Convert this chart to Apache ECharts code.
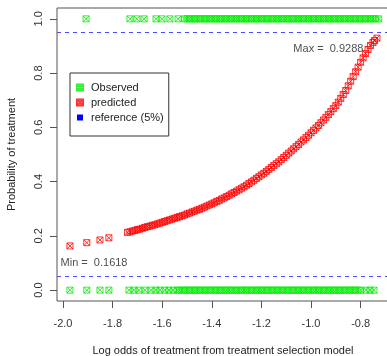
<!DOCTYPE html>
<html>
<head>
<meta charset="utf-8">
<script src="https://cdn.jsdelivr.net/npm/echarts@6/dist/echarts.min.js"></script>
<style>
html,body{margin:0;padding:0;background:#fff;}
#chart{width:387px;height:356px;}
</style>
</head>
<body>
<div id="chart"></div>
<script>
// Observed outcomes (x positions) at y = 0 and y = 1
const obs0X = [-1.972,-1.904,-1.851,-1.815,-1.734,-1.714,-1.694,-1.669,-1.645,-1.625,-1.609,-1.589,-1.573,-1.556,
  -1.54,-1.53,-1.52,-1.51,-1.50,-1.49,-1.48,-1.47,-1.46,-1.45,-1.44,-1.43,-1.42,-1.41,-1.40,-1.39,-1.38,-1.37,-1.36,-1.35,-1.34,-1.33,-1.32,-1.31,-1.30,
  -1.29,-1.28,-1.27,-1.26,-1.25,-1.24,-1.23,-1.22,-1.21,-1.20,-1.19,-1.18,-1.17,-1.16,-1.15,-1.14,-1.13,-1.12,-1.11,-1.10,
  -1.09,-1.08,-1.07,-1.06,-1.05,-1.04,-1.03,-1.02,-1.01,-1.00,-0.99,-0.98,-0.97,-0.96,-0.95,-0.94,-0.93,-0.92,-0.91,-0.90,
  -0.89,-0.88,-0.87,-0.86,-0.85,-0.84,-0.83,-0.82,-0.81,-0.80,-0.778,-0.762,-0.746];
const obs1X = [-1.907,-1.730,-1.702,-1.673,-1.625,-1.601,-1.569,-1.536,
  -1.51,-1.50,-1.49,-1.48,-1.47,-1.46,-1.45,-1.44,-1.43,-1.42,-1.41,-1.40,-1.39,-1.38,-1.37,-1.36,-1.35,-1.34,-1.33,-1.32,-1.31,-1.30,
  -1.29,-1.28,-1.27,-1.26,-1.25,-1.24,-1.23,-1.22,-1.21,-1.20,-1.19,-1.18,-1.17,-1.16,-1.15,-1.14,-1.13,-1.12,-1.11,-1.10,
  -1.09,-1.08,-1.07,-1.06,-1.05,-1.04,-1.03,-1.02,-1.01,-1.00,-0.99,-0.98,-0.97,-0.96,-0.95,-0.94,-0.93,-0.92,-0.91,-0.90,
  -0.89,-0.88,-0.87,-0.86,-0.85,-0.84,-0.83,-0.82,-0.81,-0.80,-0.79,-0.78,-0.77,-0.76,-0.75,-0.74,-0.727];

// Predicted probabilities
const predX = [-1.972,-1.904,-1.851,-1.815,
  -1.74,-1.73,-1.72,-1.71,-1.70,-1.69,-1.68,-1.67,-1.66,-1.65,-1.64,-1.63,-1.62,-1.61,-1.60,
  -1.59,-1.58,-1.57,-1.56,-1.55,-1.54,-1.53,-1.52,-1.51,-1.50,-1.49,-1.48,-1.47,-1.46,-1.45,-1.44,-1.43,-1.42,-1.41,-1.40,
  -1.39,-1.38,-1.37,-1.36,-1.35,-1.34,-1.33,-1.32,-1.31,-1.30,-1.29,-1.28,-1.27,-1.26,-1.25,-1.24,-1.23,-1.22,-1.21,-1.20,
  -1.19,-1.18,-1.17,-1.16,-1.15,-1.14,-1.13,-1.12,-1.11,-1.10,-1.09,-1.08,-1.07,-1.06,-1.05,-1.04,-1.03,-1.02,-1.01,-1.00,
  -0.99,-0.98,-0.97,-0.96,-0.95,-0.94,-0.93,-0.92,-0.91,-0.90,-0.89,-0.88,-0.87,-0.86,-0.85,-0.84,-0.83,-0.82,-0.81,-0.80,
  -0.79,-0.78,-0.77,-0.76,-0.75,-0.744,-0.734];
const predY = [0.163,0.175,0.185,0.193,
  0.213,0.215,0.218,0.220,0.223,0.225,0.228,0.231,0.234,0.236,0.239,0.241,0.244,0.247,0.250,
  0.253,0.256,0.259,0.262,0.265,0.268,0.271,0.274,0.277,0.281,0.284,0.288,0.291,0.295,0.298,0.302,0.306,0.310,0.314,0.318,
  0.322,0.327,0.331,0.336,0.340,0.345,0.350,0.355,0.360,0.365,0.370,0.376,0.381,0.387,0.393,0.399,0.405,0.412,0.418,0.425,
  0.431,0.438,0.445,0.452,0.459,0.466,0.473,0.481,0.489,0.497,0.505,0.513,0.521,0.529,0.537,0.546,0.554,0.563,0.571,0.580,
  0.589,0.598,0.607,0.617,0.627,0.637,0.647,0.658,0.669,0.680,0.693,0.707,0.721,0.736,0.753,0.770,0.787,0.805,0.822,0.840,
  0.856,0.872,0.887,0.902,0.913,0.920,0.929];

// Reference lines
const refLevels = [0.05, 0.95];

// Axis ticks
const xTicks = [-2.0,-1.8,-1.6,-1.4,-1.2,-1.0,-0.8];
const yTicks = [0.0,0.2,0.4,0.6,0.8,1.0];

// Annotations
const annotX = [-0.93, -1.875];
const annotY = [0.89, 0.10];
const annotText = ['Max =  0.9288', 'Min =  0.1618'];

const legendNames = ['Observed', 'predicted', 'reference (5%)'];

const FONT = 'Liberation Sans, Arial, sans-serif';
const FS = 11;
const boxSym = 'path://M0,0L10,0L10,10L0,10Z M0,0L10,10 M10,0L0,10';

const chart = echarts.init(document.getElementById('chart'), null, {renderer: 'canvas'});

const obsData = obs0X.map(x => [x, 0]).concat(obs1X.map(x => [x, 1]));
const predData = predX.map((x, i) => [x, predY[i]]);
const annotData = annotX.map((x, i) => ({value: [x, annotY[i]], label: {formatter: annotText[i]}}));

chart.setOption({
  backgroundColor: '#ffffff',
  animation: false,
  grid: {left: 57, top: 8, width: 332, height: 293, show: true, borderColor: '#555', borderWidth: 1, backgroundColor: 'transparent',
         containLabel: false, outerBoundsMode: 'none'},
  xAxis: {
    type: 'value', min: -2.0242, max: -0.6855,
    axisLine: {show: false, onZero: false},
    splitLine: {show: false},
    axisTick: {show: true, inside: false, length: 7, lineStyle: {color: '#555'}, customValues: xTicks},
    axisLabel: {customValues: xTicks, formatter: v => v.toFixed(1), margin: 17, fontSize: FS, color: '#333', fontFamily: FONT},
    name: 'Log odds of treatment from treatment selection model',
    nameLocation: 'middle', nameGap: 44,
    nameTextStyle: {fontSize: FS, color: '#222', fontFamily: FONT}
  },
  yAxis: {
    type: 'value', min: -0.04, max: 1.04,
    axisLine: {show: false, onZero: false},
    splitLine: {show: false},
    axisTick: {show: true, inside: false, length: 7, lineStyle: {color: '#555'}, customValues: yTicks},
    axisLabel: {customValues: yTicks, formatter: v => v.toFixed(1), rotate: 90, margin: 13, fontSize: FS, color: '#333', fontFamily: FONT},
    name: 'Probability of treatment',
    nameLocation: 'middle', nameGap: 40,
    nameTextStyle: {fontSize: FS, color: '#222', fontFamily: FONT}
  },
  legend: {
    orient: 'vertical', left: 70, top: 73,
    padding: [8, 5, 12, 6],
    borderColor: '#333', borderWidth: 1,
    itemWidth: 6, itemHeight: 6, itemGap: 2,
    textStyle: {fontSize: FS, lineHeight: 13, color: '#222', fontFamily: FONT, padding: [0, 0, 0, 3]},
    data: [
      {name: legendNames[0], icon: boxSym},
      {name: legendNames[1], icon: boxSym},
      {name: legendNames[2], icon: 'rect', itemStyle: {color: '#0000ff', borderWidth: 0}}
    ]
  },
  series: [
    {
      name: legendNames[0], type: 'scatter', symbol: boxSym, symbolSize: 6,
      itemStyle: {color: 'rgba(0,0,0,0)', borderColor: '#00ee00', borderWidth: 1},
      data: obsData, z: 3
    },
    {
      name: legendNames[1], type: 'scatter', symbol: boxSym, symbolSize: 6,
      itemStyle: {color: 'rgba(0,0,0,0)', borderColor: '#ff0000', borderWidth: 1},
      data: predData, z: 4
    },
    {
      name: legendNames[2], type: 'line', data: [],
      itemStyle: {color: '#0000ff'},
      lineStyle: {color: '#0000ff'},
      markLine: {
        silent: true, symbol: 'none', label: {show: false},
        lineStyle: {color: '#4d4dff', type: [4, 4], width: 1},
        data: refLevels.map(v => ({yAxis: v}))
      }
    },
    {
      name: 'annot', type: 'scatter', symbolSize: 0, data: annotData,
      label: {show: true, position: 'inside', fontSize: FS, color: '#222', fontFamily: FONT},
      z: 5
    }
  ]
});
</script>
</body>
</html>
